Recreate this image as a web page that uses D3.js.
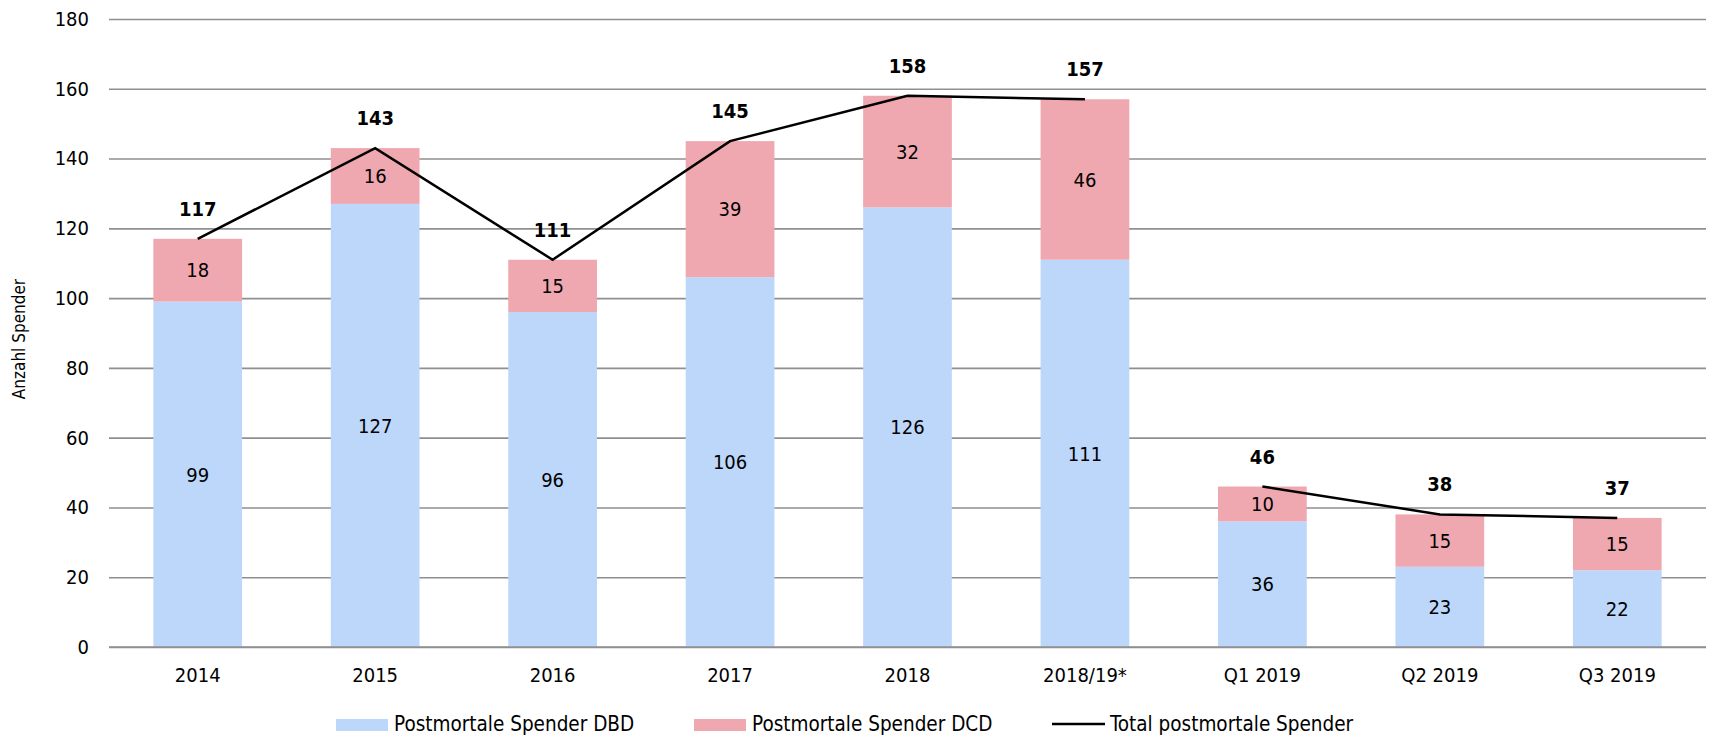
<!DOCTYPE html>
<html>
<head>
<meta charset="utf-8">
<script src="https://cdn.jsdelivr.net/npm/d3@7"></script>
<style>
  html, body { margin: 0; padding: 0; background: #fff; }
  svg text { font-family: "DejaVu Sans Condensed", "DejaVu Sans", sans-serif; font-stretch: condensed; fill: #000; }
</style>
</head>
<body>
<svg id="chart"></svg>
<script>
// Data.
const categories = ['2014', '2015', '2016', '2017', '2018', '2018/19*', 'Q1 2019', 'Q2 2019', 'Q3 2019'];
const dbd = [99, 127, 96, 106, 126, 111, 36, 23, 22];
const dcd = [18, 16, 15, 39, 32, 46, 10, 15, 15];
const totals = [117, 143, 111, 145, 158, 157, 46, 38, 37];
// The total line breaks between the yearly and the quarterly values.
const lineGroups = [[0, 1, 2, 3, 4, 5], [6, 7, 8]];
const yTicks = [0, 20, 40, 60, 80, 100, 120, 140, 160, 180];
const seriesNames = ['Postmortale Spender DBD', 'Postmortale Spender DCD', 'Total postmortale Spender'];
const colors = {dbd: '#bdd7fa', dcd: '#efa8b0', line: '#000', grid: '#8f8f8f'};

const width = 1712, height = 737;
const margin = {top: 19, right: 6, bottom: 90, left: 109};

const svg = d3.select('#chart').attr('width', width).attr('height', height);

const x = d3.scaleBand().domain(categories)
  .range([margin.left, width - margin.right])
  .paddingInner(0.5).paddingOuter(0.25);
const y = d3.scaleLinear().domain([0, 180]).range([height - margin.bottom, margin.top]);

// Gridlines + y labels.
const yAxis = svg.append('g')
  .attr('transform', `translate(${margin.left}, 0)`)
  .call(d3.axisLeft(y).tickValues(yTicks).tickSize(-(width - margin.left - margin.right)).tickPadding(20));
yAxis.select('.domain').remove();
yAxis.selectAll('.tick line').attr('stroke', colors.grid).attr('stroke-width', 1.6);
yAxis.selectAll('.tick text').attr('font-size', 20);

// Stacked bars.
const stackData = categories.map((c, i) => ({cat: c, dbd: dbd[i], dcd: dcd[i]}));
const stacked = d3.stack().keys(['dbd', 'dcd'])(stackData);
stacked.forEach((layer) => {
  const g = svg.append('g');
  g.selectAll('rect').data(layer).enter().append('rect')
    .attr('x', (d) => x(d.data.cat))
    .attr('width', x.bandwidth())
    .attr('y', (d) => y(d[1]))
    .attr('height', (d) => y(d[0]) - y(d[1]))
    .attr('fill', colors[layer.key]);
  g.selectAll('text').data(layer).enter().append('text')
    .attr('x', (d) => x(d.data.cat) + x.bandwidth() / 2)
    .attr('y', (d) => (y(d[0]) + y(d[1])) / 2)
    .attr('dy', '0.36em')
    .attr('text-anchor', 'middle')
    .attr('font-size', 20)
    .text((d) => d.data[layer.key]);
});

// Zero axis line drawn over the bars.
svg.append('line')
  .attr('x1', margin.left).attr('x2', width - margin.right)
  .attr('y1', y(0)).attr('y2', y(0))
  .attr('stroke', colors.grid).attr('stroke-width', 1.6);

// X labels.
const xAxis = svg.append('g')
  .attr('transform', `translate(0, ${y(0)})`)
  .call(d3.axisBottom(x).tickSize(0).tickPadding(21));
xAxis.select('.domain').remove();
xAxis.selectAll('.tick text').attr('font-size', 20);

// Total line.
const line = d3.line()
  .x((i) => x(categories[i]) + x.bandwidth() / 2)
  .y((i) => y(totals[i]));
lineGroups.forEach((grp) => {
  svg.append('path').datum(grp)
    .attr('d', line)
    .attr('fill', 'none')
    .attr('stroke', colors.line)
    .attr('stroke-width', 2.5);
});

// Total labels.
svg.append('g').selectAll('text').data(totals).enter().append('text')
  .attr('x', (d, i) => x(categories[i]) + x.bandwidth() / 2)
  .attr('y', (d) => y(d) - 23)
  .attr('text-anchor', 'middle')
  .attr('font-size', 20)
  .attr('font-weight', 'bold')
  .text((d) => d);

// Y axis title.
svg.append('text')
  .attr('transform', `translate(25, ${(y(0) + y(180)) / 2 + 6}) rotate(-90)`)
  .attr('text-anchor', 'middle')
  .attr('font-size', 17)
  .text('Anzahl Spender');

// Legend.
const legend = svg.append('g').attr('transform', 'translate(336, 725)');
const legendItems = [
  {name: seriesNames[0], type: 'rect', color: colors.dbd},
  {name: seriesNames[1], type: 'rect', color: colors.dcd},
  {name: seriesNames[2], type: 'line', color: colors.line}
];
legendItems.forEach((item, i) => {
  const g = legend.append('g').attr('transform', `translate(${i * 358}, 0)`);
  if (item.type === 'rect') {
    g.append('rect').attr('x', 0).attr('y', -6).attr('width', 52).attr('height', 12).attr('fill', item.color);
  } else {
    g.append('line').attr('x1', 0).attr('x2', 53).attr('y1', -1).attr('y2', -1)
      .attr('stroke', item.color).attr('stroke-width', 2.5);
  }
  g.append('text').attr('x', 58).attr('y', 6).attr('font-size', 20.5).text(item.name);
});
</script>
</body>
</html>
